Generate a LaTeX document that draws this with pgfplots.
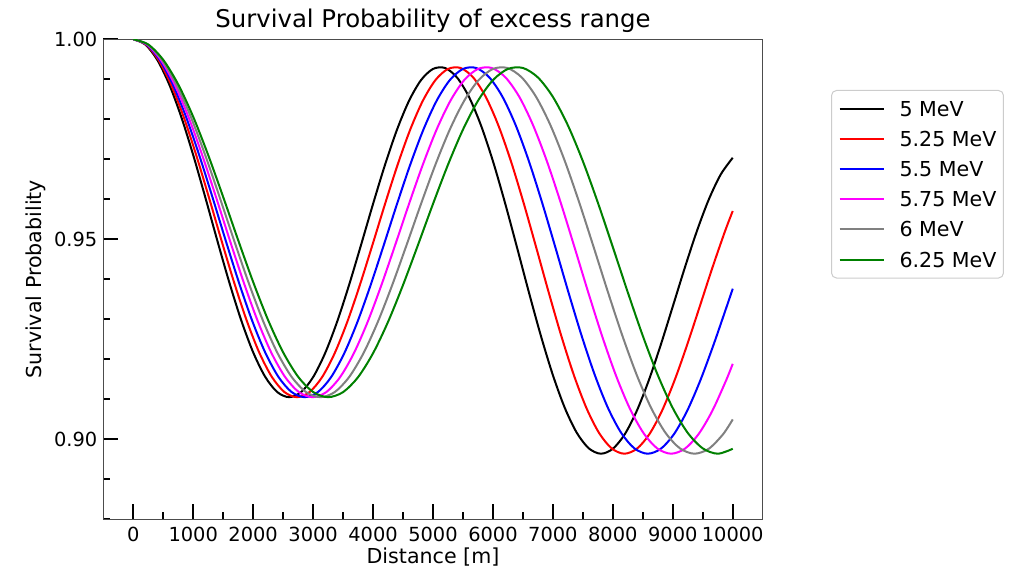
\documentclass[border=0pt]{standalone}
\usepackage{fontspec}
\setmainfont{DejaVu Sans}
\usepackage{pgfplots}
\pgfplotsset{compat=1.18}
\definecolor{mplgreen}{HTML}{008000}
\definecolor{mplgray}{HTML}{808080}
\definecolor{mplmag}{HTML}{FF00FF}
\definecolor{mplred}{HTML}{FF0000}
\definecolor{mplblue}{HTML}{0000FF}
\begin{document}
\begin{tikzpicture}
\begin{axis}[
  scale only axis, width=329.7pt, height=240pt,
  xmin=-500, xmax=10500, ymin=0.88, ymax=1.0,
  xtick={0,1000,2000,3000,4000,5000,6000,7000,8000,9000,10000},
  minor xtick={500,1500,2500,3500,4500,5500,6500,7500,8500,9500},
  ytick={0.90,0.95,1.00},
  minor ytick={0.88,0.89,0.91,0.92,0.93,0.94,0.96,0.97,0.98,0.99},
  xtick pos=bottom, ytick pos=left,
  tick align=inside,
  major tick length=7.5pt, minor tick length=3.5pt,
  every tick/.style={black, line width=1pt},
  axis line style={black!70, line width=0.6pt},
  scaled ticks=false,
  /pgf/number format/assume math mode=true,
  xticklabel style={font=\fontsize{9.7}{11}\selectfont, /pgf/number format/1000 sep={}, anchor=base, yshift=-11.2pt},
  yticklabel style={font=\fontsize{9.7}{11}\selectfont, /pgf/number format/fixed, /pgf/number format/fixed zerofill, /pgf/number format/precision=2, anchor=east, inner xsep=0pt, xshift=-2.8pt},
  every axis title shift=0pt,
  title={Survival Probability of excess range},
  title style={font=\fontsize{12.2}{14}\selectfont, at={(axis description cs:0.5,1)}, anchor=base, yshift=5.75pt},
  xlabel={Distance [m]},
  xlabel style={font=\fontsize{10.3}{12}\selectfont, at={(axis description cs:0.5,0)}, anchor=base, yshift=-22.1pt},
  ylabel={Survival Probability},
  ylabel style={font=\fontsize{10.3}{12}\selectfont, at={(axis description cs:-0.094,0.5)}, anchor=base, rotate=0},
  legend style={at={(1.1036,0.8944)}, anchor=north west, draw=black!20, fill=white, rounded corners=2.5pt, line width=0.5pt, inner xsep=3.5pt, inner ysep=3.4pt, row sep=3.5pt, column sep=7.5pt, font=\fontsize{10.3}{12}\selectfont, nodes={inner xsep=0pt, inner ysep=2pt, text depth=0pt}},
  legend cell align=left,
  legend image code/.code={\draw[#1, line width=1pt] (0pt,0pt) -- (22pt,0pt);},
  every axis plot/.append style={line width=1pt, smooth, line join=round},
]
\addplot[black] coordinates {(0,1.00000)(200,0.99870)(400,0.99486)(600,0.98871)(800,0.98062)(1000,0.97105)(1200,0.96057)(1400,0.94978)(1600,0.93932)(1800,0.92978)(2000,0.92174)(2200,0.91564)(2400,0.91183)(2600,0.91053)(2800,0.91180)(3000,0.91554)(3200,0.92152)(3400,0.92936)(3600,0.93858)(3800,0.94861)(4000,0.95885)(4200,0.96865)(4400,0.97743)(4600,0.98462)(4800,0.98979)(5000,0.99259)(5200,0.99283)(5400,0.99046)(5600,0.98560)(5800,0.97849)(6000,0.96952)(6200,0.95917)(6400,0.94804)(6600,0.93672)(6800,0.92585)(7000,0.91603)(7200,0.90780)(7400,0.90159)(7600,0.89773)(7800,0.89640)(8000,0.89763)(8200,0.90129)(8400,0.90713)(8600,0.91475)(8800,0.92364)(9000,0.93322)(9200,0.94287)(9400,0.95197)(9600,0.95993)(9800,0.96621)(10000,0.97038)};
\addlegendentry{5 MeV}
\addplot[mplred] coordinates {(0,1.00000)(210,0.99870)(420,0.99486)(630,0.98871)(840,0.98062)(1050,0.97105)(1260,0.96057)(1470,0.94978)(1680,0.93932)(1890,0.92978)(2100,0.92174)(2310,0.91564)(2520,0.91183)(2730,0.91053)(2940,0.91180)(3150,0.91554)(3360,0.92152)(3570,0.92936)(3780,0.93858)(3990,0.94861)(4200,0.95885)(4410,0.96865)(4620,0.97743)(4830,0.98462)(5040,0.98979)(5250,0.99259)(5460,0.99283)(5670,0.99046)(5880,0.98560)(6090,0.97849)(6300,0.96952)(6510,0.95917)(6720,0.94804)(6930,0.93672)(7140,0.92585)(7350,0.91603)(7560,0.90780)(7770,0.90159)(7980,0.89773)(8190,0.89640)(8400,0.89763)(8610,0.90129)(8820,0.90713)(9030,0.91475)(9240,0.92364)(9450,0.93322)(9660,0.94287)(9870,0.95197)(10000,0.95707)};
\addlegendentry{5.25 MeV}
\addplot[mplblue] coordinates {(0,1.00000)(220,0.99870)(440,0.99486)(660,0.98871)(880,0.98062)(1100,0.97105)(1320,0.96057)(1540,0.94978)(1760,0.93932)(1980,0.92978)(2200,0.92174)(2420,0.91564)(2640,0.91183)(2860,0.91053)(3080,0.91180)(3300,0.91554)(3520,0.92152)(3740,0.92936)(3960,0.93858)(4180,0.94861)(4400,0.95885)(4620,0.96865)(4840,0.97743)(5060,0.98462)(5280,0.98979)(5500,0.99259)(5720,0.99283)(5940,0.99046)(6160,0.98560)(6380,0.97849)(6600,0.96952)(6820,0.95917)(7040,0.94804)(7260,0.93672)(7480,0.92585)(7700,0.91603)(7920,0.90780)(8140,0.90159)(8360,0.89773)(8580,0.89640)(8800,0.89763)(9020,0.90129)(9240,0.90713)(9460,0.91475)(9680,0.92364)(9900,0.93322)(10000,0.93764)};
\addlegendentry{5.5 MeV}
\addplot[mplmag] coordinates {(0,1.00000)(230,0.99870)(460,0.99486)(690,0.98871)(920,0.98062)(1150,0.97105)(1380,0.96057)(1610,0.94978)(1840,0.93932)(2070,0.92978)(2300,0.92174)(2530,0.91564)(2760,0.91183)(2990,0.91053)(3220,0.91180)(3450,0.91554)(3680,0.92152)(3910,0.92936)(4140,0.93858)(4370,0.94861)(4600,0.95885)(4830,0.96865)(5060,0.97743)(5290,0.98462)(5520,0.98979)(5750,0.99259)(5980,0.99283)(6210,0.99046)(6440,0.98560)(6670,0.97849)(6900,0.96952)(7130,0.95917)(7360,0.94804)(7590,0.93672)(7820,0.92585)(8050,0.91603)(8280,0.90780)(8510,0.90159)(8740,0.89773)(8970,0.89640)(9200,0.89763)(9430,0.90129)(9660,0.90713)(9890,0.91475)(10000,0.91887)};
\addlegendentry{5.75 MeV}
\addplot[mplgray] coordinates {(0,1.00000)(240,0.99870)(480,0.99486)(720,0.98871)(960,0.98062)(1200,0.97105)(1440,0.96057)(1680,0.94978)(1920,0.93932)(2160,0.92978)(2400,0.92174)(2640,0.91564)(2880,0.91183)(3120,0.91053)(3360,0.91180)(3600,0.91554)(3840,0.92152)(4080,0.92936)(4320,0.93858)(4560,0.94861)(4800,0.95885)(5040,0.96865)(5280,0.97743)(5520,0.98462)(5760,0.98979)(6000,0.99259)(6240,0.99283)(6480,0.99046)(6720,0.98560)(6960,0.97849)(7200,0.96952)(7440,0.95917)(7680,0.94804)(7920,0.93672)(8160,0.92585)(8400,0.91603)(8640,0.90780)(8880,0.90159)(9120,0.89773)(9360,0.89640)(9600,0.89763)(9840,0.90129)(10000,0.90497)};
\addlegendentry{6 MeV}
\addplot[mplgreen] coordinates {(0,1.00000)(250,0.99870)(500,0.99486)(750,0.98871)(1000,0.98062)(1250,0.97105)(1500,0.96057)(1750,0.94978)(2000,0.93932)(2250,0.92978)(2500,0.92174)(2750,0.91564)(3000,0.91183)(3250,0.91053)(3500,0.91180)(3750,0.91554)(4000,0.92152)(4250,0.92936)(4500,0.93858)(4750,0.94861)(5000,0.95885)(5250,0.96865)(5500,0.97743)(5750,0.98462)(6000,0.98979)(6250,0.99259)(6500,0.99283)(6750,0.99046)(7000,0.98560)(7250,0.97849)(7500,0.96952)(7750,0.95917)(8000,0.94804)(8250,0.93672)(8500,0.92585)(8750,0.91603)(9000,0.90780)(9250,0.90159)(9500,0.89773)(9750,0.89640)(10000,0.89763)};
\addlegendentry{6.25 MeV}
\end{axis}
\pgfresetboundingbox
\path[use as bounding box] ([shift={(-51.65pt,-25.85pt)}]current axis.south west) rectangle ([shift={(455.85pt,259.65pt)}]current axis.south west);
\end{tikzpicture}
\end{document}
